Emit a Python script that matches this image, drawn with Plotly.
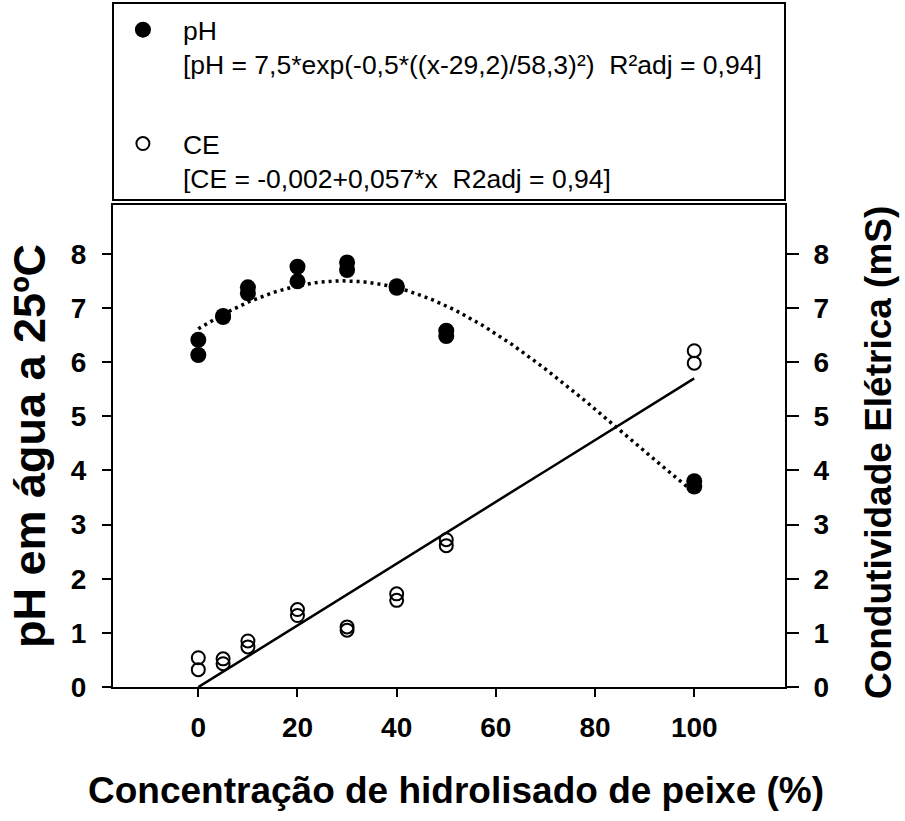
import numpy as np
import plotly.graph_objects as go

# Hydrolysate concentration (%) with two replicates per level
conc = [0, 0, 5, 5, 10, 10, 20, 20, 30, 30, 40, 40, 50, 50, 100, 100]
ph_vals = [6.41, 6.13, 6.83, 6.85, 7.38, 7.27, 7.76, 7.49, 7.84, 7.70,
           7.40, 7.37, 6.58, 6.48, 3.80, 3.70]
ce_vals = [0.54, 0.32, 0.52, 0.43, 0.85, 0.74, 1.43, 1.32, 1.11, 1.05,
           1.72, 1.60, 2.72, 2.61, 6.21, 5.98]

# Fitted models
ph_a, ph_x0, ph_b = 7.5, 29.2, 58.3
ce_b0, ce_b1 = -0.002, 0.057

x_tick_vals = [0, 20, 40, 60, 80, 100]
y_tick_vals = [0, 1, 2, 3, 4, 5, 6, 7, 8]

x_fit = np.linspace(0, 100, 201)
ph_fit = ph_a * np.exp(-0.5 * ((x_fit - ph_x0) / ph_b) ** 2)
ce_fit = ce_b0 + ce_b1 * x_fit

FONT = "Liberation Sans"

fig = go.Figure()

fig.add_trace(go.Scatter(
    x=x_fit, y=ph_fit, mode="lines", showlegend=False, hoverinfo="skip",
    line=dict(color="black", width=3.5, dash="3px,4px"),
))
fig.add_trace(go.Scatter(
    x=x_fit, y=ce_fit, mode="lines", showlegend=False, hoverinfo="skip",
    yaxis="y2", line=dict(color="black", width=2.5),
))
fig.add_trace(go.Scatter(
    x=conc, y=ph_vals, mode="markers", legendgroup="ph",
    name="pH<br>[pH = 7,5*exp(-0,5*((x-29,2)/58,3)²)  R²adj = 0,94]",
    marker=dict(symbol="circle", size=16, color="black"),
))
fig.add_trace(go.Scatter(
    x=conc, y=ce_vals, mode="markers", legendgroup="ce", yaxis="y2",
    name="CE<br>[CE = -0,002+0,057*x  R2adj = 0,94]",
    marker=dict(symbol="circle-open", size=13, color="black",
                line=dict(width=2, color="black")),
))

tick_font = dict(family=FONT, size=28, color="black", weight="bold")
axis_common = dict(
    showgrid=False, zeroline=False, showline=True, linecolor="black",
    linewidth=2, ticks="outside", tickcolor="black", tickwidth=2,
    tickfont=tick_font,
)

fig.update_layout(
    width=905, height=821,
    margin=dict(l=113, r=120, t=205, b=134, autoexpand=False),
    paper_bgcolor="white", plot_bgcolor="white",
    font=dict(family=FONT, color="black"),
    xaxis=dict(range=[-17.2, 118.3], tickvals=x_tick_vals, mirror=True,
               ticklen=8, ticklabelstandoff=6, **axis_common),
    yaxis=dict(range=[0, 8.9], tickvals=y_tick_vals, ticklen=9,
               ticklabelstandoff=10, **axis_common),
    yaxis2=dict(range=[0, 8.9], tickvals=y_tick_vals, overlaying="y",
                side="right", ticklen=12, ticklabelstandoff=9,
                **axis_common),
    legend=dict(
        x=-0.015, y=1.413, xanchor="left", yanchor="top",
        bgcolor="rgba(0,0,0,0)", borderwidth=0,
        font=dict(family=FONT, size=26.5, color="black"),
        valign="top", tracegroupgap=42, itemwidth=70,
        traceorder="grouped",
    ),
    shapes=[dict(type="rect", xref="paper", yref="paper",
                 x0=0, x1=1.0, y0=1.0104, y1=1.419,
                 line=dict(color="black", width=2))],
    annotations=[
        dict(text="<b>Concentração de hidrolisado de peixe (%)</b>",
             xref="paper", yref="paper", x=0.51, y=-0.2137,
             xanchor="center", yanchor="middle", showarrow=False,
             font=dict(family=FONT, size=37, color="black")),
        dict(text="<b>pH em água a 25ºC</b>", textangle=-90,
             xref="paper", yref="paper", x=-0.125, y=0.50,
             xanchor="center", yanchor="middle", showarrow=False,
             font=dict(family=FONT, size=45, color="black")),
        dict(text="<b>Condutividade Elétrica (mS)</b>", textangle=-90,
             xref="paper", yref="paper", x=1.14, y=0.4855,
             xanchor="center", yanchor="middle", showarrow=False,
             font=dict(family=FONT, size=37, color="black")),
    ],
)

fig.write_html("out.html")
